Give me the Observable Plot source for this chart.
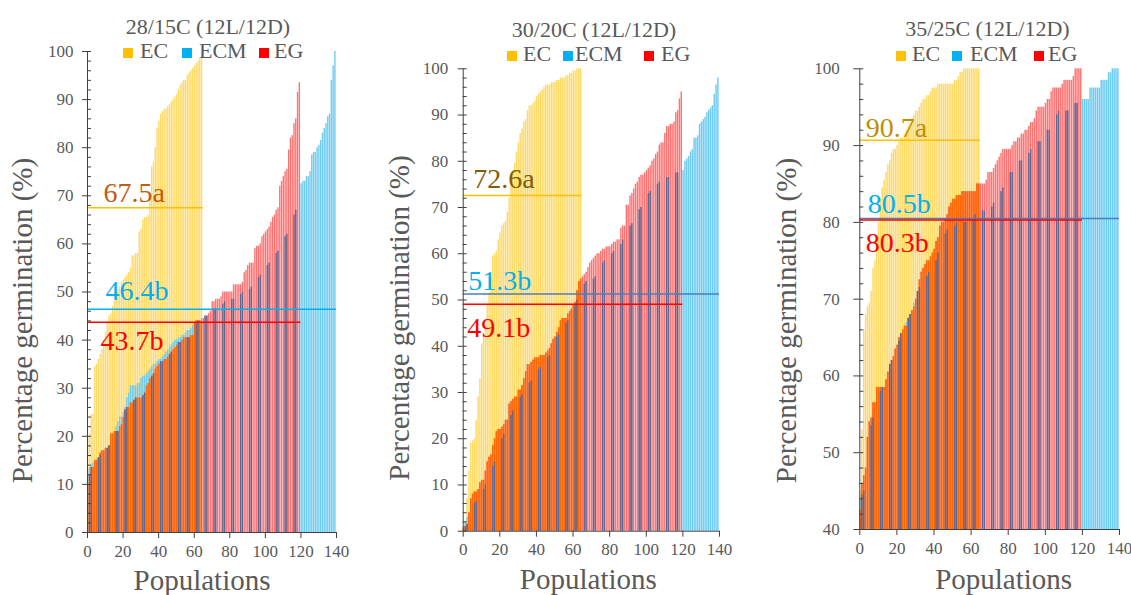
<!DOCTYPE html>
<html><head><meta charset="utf-8">
<script src="https://cdn.jsdelivr.net/npm/d3@7"></script>
<script src="https://cdn.jsdelivr.net/npm/@observablehq/plot@0.6"></script>
<style>
body{margin:0;background:#fff;}
#root{position:relative;width:1131px;height:595px;overflow:hidden;font-family:"Liberation Serif","Times New Roman",serif;color:#595959;background:#fff;}
.panel{position:absolute;top:0;}
.title{position:absolute;font-size:22px;line-height:18px;white-space:nowrap;transform:translateX(-50%);}
.lg{position:absolute;font-size:22px;line-height:18px;white-space:nowrap;}
.sq{position:absolute;width:10px;height:10px;}
</style></head><body><div id="root"></div>
<script>
// ---------- data ----------
const panelTitles = ["28/15C (12L/12D)", "30/20C (12L/12D)", "35/25C (12L/12D)"];
const seriesNames = ["EC", "ECM", "EG"];
const seriesColors = ["#FFC000", "#00B0F0", "#FF0000"];
const xTicks = [0, 20, 40, 60, 80, 100, 120, 140];
const yTicks_a = [0, 10, 20, 30, 40, 50, 60, 70, 80, 90, 100];
const yTicks_b = [40, 50, 60, 70, 80, 90, 100];

const means_28_15 = [67.5, 46.4, 43.7];
const meanLabels_28_15 = ["67.5a", "46.4b", "43.7b"];
const means_30_20 = [72.6, 51.3, 49.1];
const meanLabels_30_20 = ["72.6a", "51.3b", "49.1b"];
const means_35_25 = [90.7, 80.5, 80.3];
const meanLabels_35_25 = ["90.7a", "80.5b", "80.3b"];

const ec_28_15 = [20,20.5,24.5,24.5,34.5,35,36,37,38,40,
41.5,43.5,45,45.5,47,48,50,50.5,51,52,
52.5,53,53.5,54,55,57.5,57.5,58,58,62.5,
63,65,65.5,65.5,66,70,76,77,80,84,
85.5,87,87.5,88,88,88.5,89,89.5,90,90.5,
91,92,93,93.5,94,94,95,95.5,96,96.5,
97,97.5,98,98.5,99];
const ecm_28_15 = [13,13.5,14,14.5,14.5,15,15.5,16,16.5,17,
17,17.5,18,18.5,20,21,22,23,24,24,
25,26,28,29,30.5,30.5,30.5,30.5,31,31,
32,32.5,32.5,33,33.5,34,34.5,35,35,35.5,
36,36,36.5,37,37.5,38,38.5,39,39.5,40,
40,40.5,40.5,41,41,41.5,42,42,42.5,43,
43.5,43.5,44,44,44.5,44.5,45,45,45.5,46,
46,46.5,46.5,47,47,47.5,47.5,48,48,48,
48,48.5,48.5,49,49,49.5,49.5,50,50,50,
50,50.5,51,51.5,52,52.5,53,53.5,54,55,
55,55.5,56,56.5,57,57.5,58,58.5,59,60,
61,61.5,62,63,64,65,66,67,69,71,
72.5,73,73,74,74,75,78.5,79,79,80,
80.5,81.5,83,84,85,86.5,87,94,97,100];
const eg_28_15 = [10,12,13.5,13.5,15,15,15.5,16.5,17,17,
17.5,17.5,18,20.5,20.5,21,21,21,22,22.5,
24,25.5,26,26,27,27,27.5,28,28,28,
28,28.5,29,30.5,31,32,32.5,33,34,34.5,
35,35.5,35.5,36,36,36.5,37,37.5,38,38.5,
39,39.5,39.5,40,40.5,40.5,40.5,40.5,41,41,
43.5,44,44,44,44,44.5,45,45,45.5,46,
48,48,48.5,48.5,48.5,49,50,50,50,50,
50,50,51.5,51.5,51.5,51.5,51.5,52,54,54.5,
55.5,56,56,56,59,59.5,59.5,60,61.5,62,
62.5,63,63.5,64.5,65.5,66,67,67.5,72,73,
74,75,75.5,79.5,82,82.5,85,86,91.5,93.5];

const ec_30_20 = [1,2,7,13,19,19.5,20,24,29,33,
40.5,42,44,49,51.5,55,59.5,60,60.5,63,
64.5,66,66.5,67,69,72,75,78,79.5,82,
84,86,87,88.5,89,91,92,92,92.5,93,
94,94.5,95,95.5,96,96.5,96.5,96.5,97,97,
97,97.5,97.5,98,98,98,98.5,98.5,99,99,
99.5,99.5,100,100,100];
const ecm_30_20 = [1,2,3,4,5,5.5,6,6.5,7,7.5,
8,9,10,11,12,13,14,15,16,17,
18.5,20,21,22,23,24,25,26,27,28,
28.5,29,29.5,30,31,31.5,32,32.5,33,34,
34,35,35.5,36,36.5,37,37.5,38,39,40,
41,42,42.5,43,44,44.5,45,45.5,46,47,
48,49,50,51,52,53,53.5,54,54,54,
54,54.5,55,56,57,57.5,58,58.5,59,59.5,
60,60,60.5,61,61,61.5,62,63,64,65,
65.5,66,66.5,67,68,69,69.5,70,71,72,
72.5,73,73.5,74,74,74.5,75,75.5,75.5,76,
76,76.5,76.5,77,77,77,77.5,77.5,77.5,77.5,
78,80,80.5,81,82,82.5,85,85,85.5,88,
88.5,89,89.5,90.5,91,91.5,92,94.5,96.5,98];
const eg_30_20 = [0.5,1,1.5,4,7,8,8.5,8.5,9,10.5,
11,11,13,15,16,16.5,18.5,20,21.5,22,
22,22.5,23,24,24,27.5,28,28.5,29,29,
30.5,30.5,31.5,33,34.5,36,36,36.5,37,37.5,
37.5,37.5,38,38,38,38.5,39,39.5,40.5,41.5,
42,43,44,45.5,46,46,46,47,47.5,48,
49,49.5,52,54,54.5,55,55.5,56,57,58,
58.5,59,59.5,60,60,60.5,61,61,61.5,61.5,
61.5,62,62.5,62.5,63,63,65.5,66,66,70.5,
70.5,72.5,73,74,75,75.5,76.5,77,77,77.5,
78,78.5,79,80,80.5,81.5,82,83.5,84,84,
86,87.5,87.5,88,88,88.5,90.5,91,93.5,95];

const ec_35_25 = [45,53,66,68,69,69.5,71,74,75,78,
80,83,84.5,85.5,86.5,87.5,88,89,89.5,89.5,
90,90.5,91,91,91.5,92,92.5,93,93.5,94,
94.5,94.5,95,95.5,96,96,96.5,96.5,97,97.5,
97.5,97.5,98,98,98,98,98,98,98,98,
98,98.5,98.5,99,99.5,99.5,100,100,100,100,
100,100,100,100,100];
const ecm_35_25 = [44,44.5,45,48,50,52,53.5,54.5,55,56,
57,58,58.5,58.5,59,60,61.5,62,62.5,63,
64,64.5,65.5,66,66.5,67,67.5,68,68.5,69.5,
70,71,71.5,72,72.5,73,73,73.5,73.5,74,
74.5,75,76,77,77.5,78,78.5,79,79,79.5,
79.5,79.5,80,80,80,80,80,80,80,80,
80,80.5,81,81,81,81,81.5,81.5,81.5,81.5,
81.5,82,82.5,83,83.5,84,84,84.5,85,85.5,
86,86.5,86.5,87,87,87.5,88,88,88.5,88.5,
89,89,89.5,89.5,90,90,90.5,90.5,91,91,
91.5,92,92,92.5,93,93.5,94,94.5,94.5,94.5,
94.5,94.5,94.5,95,95,95,95.5,95.5,96,96,
96,96,96,96,97.5,97.5,97.5,97.5,97.5,97.5,
98.5,98.5,98.5,98.5,99.5,99.5,100,100,100,100];
const eg_35_25 = [42.5,46,47,48,52,54,54.5,56.5,56.5,58.5,
58.5,58.5,58.5,58.5,59.5,60.5,61.5,62,62.5,63.5,
64,65,65.5,66,66.5,66.5,67.5,68,68.5,69,
70,71,72.5,73.5,74,74.5,75,75,75.5,76,
76.5,77.5,78,79.5,80,80,80.5,81,82,82.5,
83,83,83.5,83.5,83.5,84,84,84,84,84,
84,84,84,85,85,85,85,85,85.5,86.5,
86.5,86.5,87,87.5,88,88.5,89,89.5,89.5,89.5,
89.5,89.5,90,90.5,90.5,91,91,91.5,91.5,92,
92,92.5,93,93,93.5,94.5,95,95,95,95,
95.5,96,96,97,97.5,97.5,97.5,97.5,97.5,98,
98.5,98.5,98.5,98.5,98.5,99,100,100,100,100];

// ---------- layout / style ----------
const FONT = '"Liberation Serif","Times New Roman",serif';
const GRAY = "#595959";
const AXIS = "#404040";
const FILL_EC = "#FFD966", FILL_EG = "#FF7272", FILL_ECEG = "#FF6600", FILL_ECM = "#6CCBF1", FILL_ECMEG = "#5D6792";

const panels = [
  {title: panelTitles[0], ec: ec_28_15, ecm: ecm_28_15, eg: eg_28_15, means: means_28_15, labels: meanLabels_28_15, yTicks: yTicks_a,
   left: 0, width: 360, ml: 87, mr: 24, mt: 51, mb: 63, yTickSize: 5, yTickPad: 9,
   labelColors: ["#C55A11", "#00B0F0", "#FF0000"], lineColors: ["#FFC000", "#00B0F0", "#FF0000"],
   labelOff: [[16, -6], [18, -9], [13, 28]], yLab: [-64.5, 28.5], xLab: [-10, 48],
   titleCx: 208, titleTop: 17.6, lgTop: 42.1, sqTop: 47.5, sqX: [123, 182, 259], txX: [140, 199, 274]},
  {title: panelTitles[1], ec: ec_30_20, ecm: ecm_30_20, eg: eg_30_20, means: means_30_20, labels: meanLabels_30_20, yTicks: yTicks_a,
   left: 370, width: 360, ml: 92.7, mr: 11, mt: 68.3, mb: 64.3, yTickSize: 5, yTickPad: 10,
   labelColors: ["#7F6000", "#00B0F0", "#FF0000"], lineColors: ["#FFC000", "#4A7EBB", "#FF0000"],
   labelOff: [[10, -7], [5, -3.5], [4, 33]], yLab: [-63.2, 18], xLab: [-3, 49],
   titleCx: 594, titleTop: 20.6, lgTop: 45.1, sqTop: 50.5, sqX: [507, 563, 644], txX: [523, 575, 661]},
  {title: panelTitles[2], ec: ec_35_25, ecm: ecm_35_25, eg: eg_35_25, means: means_35_25, labels: meanLabels_35_25, yTicks: yTicks_b,
   left: 750, width: 381, ml: 109.3, mr: 12, mt: 68.3, mb: 66, yTickSize: 6, yTickPad: 14,
   labelColors: ["#BF9000", "#00B0F0", "#FF0000"], lineColors: ["#FFC000", "#4A7EBB", "#FF0000"],
   labelOff: [[6, -3], [8, -6], [6, 32]], yLab: [-72.8, 21.4], xLab: [14, 50],
   titleCx: 987.5, titleTop: 20.1, lgTop: 45.1, sqTop: 50.5, sqX: [896, 952, 1034], txX: [912, 970, 1048]}
];

const stripe = i => i % 5 === 1 || i % 5 === 2;
const root = document.getElementById("root");

panels.forEach(p => {
  const y0 = p.yTicks[0], y1 = p.yTicks[p.yTicks.length - 1];
  const rows = d3.range(xTicks[xTicks.length - 1]).map(i => ({i, ec: p.ec[i], ecm: p.ecm[i], eg: p.eg[i]}));
  const X = {x1: d => d.i, x2: d => d.i + 1, insetRight: 0.4};
  const series = [p.ec, p.ecm, p.eg];
  const minor = d3.range(y0, y1 + 1, 2);

  const chart = Plot.plot({
    width: p.width, height: 595,
    marginLeft: p.ml, marginRight: p.mr, marginTop: p.mt, marginBottom: p.mb,
    x: {domain: [0, 140], axis: null},
    y: {domain: [y0, y1], axis: null},
    style: {fontFamily: FONT, color: GRAY, background: "transparent", overflow: "visible"},
    marks: [
      Plot.rect(rows.filter(d => d.ec != null), {...X, y1: y0, y2: d => d.ec, fill: FILL_EC}),
      Plot.rect(rows.filter(d => d.eg != null), {...X, y1: y0, y2: d => d.eg, fill: FILL_EG}),
      Plot.rect(rows.filter(d => d.ec != null && d.eg != null), {...X, y1: y0, y2: d => Math.min(d.ec, d.eg), fill: FILL_ECEG}),
      Plot.rect(rows.filter(d => d.ecm != null && d.ecm > (d.eg ?? y0)), {...X, y1: d => d.eg ?? y0, y2: d => d.ecm, fill: FILL_ECM}),
      Plot.rect(rows.filter(d => d.ecm != null && d.eg != null && stripe(d.i)), {...X, y1: y0, y2: d => Math.min(d.ecm, d.eg), fill: FILL_ECMEG}),
      // mean lines
      ...p.means.map((m, k) => Plot.ruleY([m], {y: d => d, x1: 0, x2: series[k].length, stroke: p.lineColors[k], strokeWidth: 1.5})),
      // mean labels
      ...p.means.map((m, k) => Plot.text([p.labels[k]], {x: 0, y: m, text: d => d, fill: p.labelColors[k], fontSize: 28,
          textAnchor: "start", lineAnchor: "bottom", dx: p.labelOff[k][0], dy: p.labelOff[k][1]})),
      // axes
      Plot.ruleX([0], {stroke: AXIS}),
      Plot.ruleY([y0], {stroke: AXIS}),
      Plot.axisY({ticks: p.yTicks, tickSize: p.yTickSize, tickPadding: p.yTickPad, fontSize: 17, label: null, stroke: AXIS}),
      Plot.axisY({ticks: minor, tickSize: -4, tickFormat: () => "", label: null, stroke: AXIS}),
      Plot.axisX({ticks: xTicks, tickSize: 6, tickPadding: 6, fontSize: 17, label: null, stroke: AXIS}),
      Plot.text(["Percentage germination (%)"], {frameAnchor: "left", rotate: -90, dx: p.yLab[0], dy: p.yLab[1],
          fontSize: 29, fill: GRAY, textAnchor: "middle", lineAnchor: "middle"}),
      Plot.text(["Populations"], {frameAnchor: "bottom", dx: p.xLab[0], dy: p.xLab[1],
          fontSize: 29, fill: GRAY, textAnchor: "middle", lineAnchor: "middle"})
    ]
  });
  const holder = document.createElement("div");
  holder.className = "panel";
  holder.style.left = p.left + "px";
  holder.appendChild(chart);
  root.appendChild(holder);

  const t = document.createElement("div");
  t.className = "title";
  t.style.left = p.titleCx + "px";
  t.style.top = p.titleTop + "px";
  t.textContent = p.title;
  root.appendChild(t);

  seriesNames.forEach((name, k) => {
    const sq = document.createElement("div");
    sq.className = "sq";
    sq.style.left = p.sqX[k] + "px";
    sq.style.top = p.sqTop + "px";
    sq.style.background = seriesColors[k];
    root.appendChild(sq);
    const tx = document.createElement("div");
    tx.className = "lg";
    tx.style.left = p.txX[k] + "px";
    tx.style.top = p.lgTop + "px";
    tx.textContent = name;
    root.appendChild(tx);
  });
});
</script></body></html>
